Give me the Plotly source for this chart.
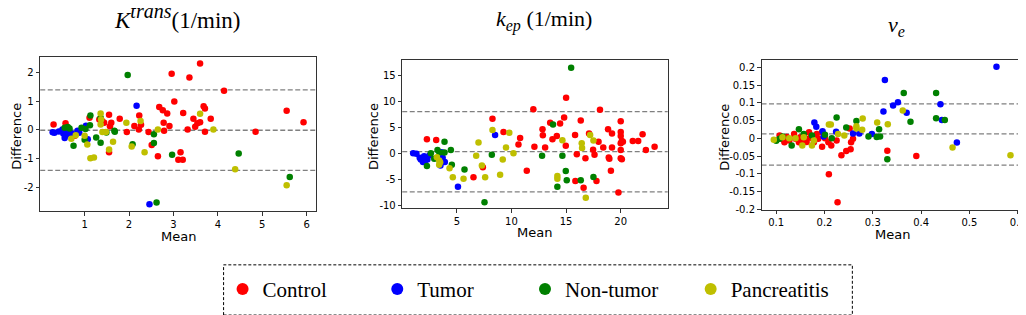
import plotly.graph_objects as go

W, H = 1026, 315


def X(px):
    return px / W


def Y(py):
    return 1 - py / H


groups = ["Control", "Tumor", "Non-tumor", "Pancreatitis"]
colors = ["#ff0000", "#0000ff", "#008000", "#bfbf00"]

# ---------------- Panel 1: K_trans ----------------
k_ctrl_mean = [0.30, 0.57, 0.78, 1.11, 1.33, 1.40, 1.44, 1.55, 1.60, 1.57, 1.55, 1.79, 1.95, 2.12, 2.22, 2.23, 2.27,
               2.44, 2.51, 2.65, 2.68, 2.76, 2.78, 2.79, 2.86, 2.91, 2.96, 3.02, 3.11, 3.16, 3.21, 3.22, 3.32, 3.36,
               3.45, 3.49, 3.54, 3.60, 3.60, 3.68, 3.71, 3.71, 3.84, 4.14, 4.85, 5.55, 5.93]
k_ctrl_diff = [0.19, 0.23, -0.20, 0.42, 0.36, 0.30, 0.25, 0.53, 0.25, 0.13, -0.77, 0.39, -0.07, 0.14, 0.02, 0.50, 0.18,
               -0.07, -0.52, -0.91, 0.80, 0.68, 0.25, -0.03, 0.57, 0.14, 1.95, 0.99, -1.03, -0.77, -1.03, 0.59, 0.02,
               1.82, 0.39, 0.11, 0.23, 2.30, 0.27, 0.82, 0.74, -0.06, 0.39, 1.36, -0.06, 0.67, 0.27]
k_tum_mean = [0.28, 0.32, 0.42, 0.50, 0.52, 0.55, 0.58, 0.62, 0.66, 0.70, 0.74, 0.84, 0.88, 1.03, 1.07, 2.17, 2.46]
k_tum_diff = [-0.08, -0.10, -0.05, 0.02, -0.12, -0.28, -0.18, -0.10, -0.05, -0.12, -0.15, -0.03, -0.10, 0.15, -0.32,
              0.84, -2.57]
k_non_mean = [0.55, 0.62, 0.66, 0.75, 0.93, 1.00, 1.02, 1.12, 1.13, 1.26, 1.36, 1.36, 1.49, 1.67, 1.68, 1.97, 2.08,
              2.56, 2.56, 2.62, 2.97, 4.47, 5.62]
k_non_diff = [0.08, 0.10, 0.05, -0.55, 0.08, -0.34, 0.03, 0.16, 0.50, -0.26, -0.44, 0.42, -0.09, -0.03, -0.06, 1.90,
              -0.49, -0.15, -0.45, -2.51, -0.86, -0.81, -1.63]
k_pan_mean = [0.70, 0.80, 1.00, 1.06, 1.13, 1.21, 1.36, 1.37, 1.36, 1.40, 1.48, 1.55, 1.64, 1.94, 2.06, 2.26, 2.35,
              2.65, 3.60, 3.90, 4.39, 5.55]
k_pan_diff = [-0.30, -0.18, -0.20, -0.50, -0.98, -0.95, 0.57, 0.36, 0.19, -0.07, -0.07, -0.68, -0.41, 0.25, -0.57,
              0.31, -0.77, 0.02, 0.56, 0.02, -1.36, -1.91]
k_lines = [1.386, -0.01, -1.40]

# ---------------- Panel 2: k_ep ----------------
kep_ctrl_mean = [2.26, 3.11, 6.52, 7.38, 8.26, 9.27, 10.64, 10.79, 11.4, 12.0, 12.1, 12.84, 12.87, 13.08, 13.54, 13.75,
                 14.15, 14.45, 14.82, 15.0, 14.97, 15.82, 15.98, 15.85, 16.34, 16.6, 16.77, 17.1, 17.47, 17.6, 17.78,
                 17.97, 18.1, 18.4, 18.84, 18.9, 18.96, 19.2, 19.2, 19.1, 19.79, 20.0, 20.0, 20.0, 20.0, 20.1, 20.0,
                 20.0, 20.1, 20.2, 21.1, 21.6, 22.0, 22.3, 23.1]
kep_ctrl_diff = [2.79, 2.66, -4.57, -2.6, 6.73, 4.19, 1.78, 3.05, -3.3, 8.6, 1.33, 4.7, 3.55, 1.2, 5.96, 2.79, 3.43,
                 5.84, 6.98, 10.8, 1.52, 3.62, -0.13, -5.27, 6.4, -6.6, -0.89, 3.9, 0.76, -0.19, -5.27, 2.28, 8.5,
                 1.2, 4.7, -0.76, -1.0, 3.9, 1.2, -3.3, -7.5, 6.28, 4.19, 3.43, 2.03, 2.47, 0.7, -0.89, -1.08, 2.28,
                 2.47, 2.47, 3.74, 0.7, 1.33]
kep_tum_mean = [1.0, 1.3, 1.6, 1.7, 1.8, 1.9, 2.0, 2.1, 2.2, 2.3, 2.5, 3.5, 3.6, 3.7, 3.9, 5.1, 8.5]
kep_tum_diff = [0.1, 0.0, -0.8, -1.1, -1.0, -1.6, -0.5, -1.3, -0.9, -1.1, -0.3, -2.3, 0.3, -0.8, -1.6, -6.4, 3.6]
kep_non_mean = [2.26, 2.62, 2.93, 3.23, 3.4, 3.87, 3.87, 4.45, 4.54, 5.7, 8.2, 7.53, 12.8, 13.8, 14.66, 14.97, 15.06,
                14.2, 15.46, 16.34, 17.5]
kep_non_diff = [-2.4, 0.06, -1.0, 0.7, 0.25, 2.28, 0.25, 0.7, -2.16, -3.05, -0.19, -9.4, -0.38, 5.65, -0.38, -3.36,
                -5.14, -6.4, 16.6, -5.14, -4.5]
kep_pan_mean = [3.17, 3.38, 3.47, 3.38, 4.33, 4.63, 5.61, 6.77, 6.98, 7.29, 7.59, 8.26, 8.96, 9.2, 9.5, 9.8, 10.18,
                14.2, 14.2, 14.66, 16.43, 16.46, 16.8, 17.2, 17.5]
kep_pan_diff = [-0.7, -1.33, -1.65, -2.16, -2.79, -4.57, -4.82, -0.38, 2.16, -2.28, -4.57, 4.57, -4.06, -1.14, 1.2,
                4.06, 0.06, -4.31, -4.82, 2.6, 2.03, 1.08, -8.5, 3.62, 2.54]
kep_lines = [8.12, 0.38, -7.36]

# ---------------- Panel 3: v_e ----------------
ve_ctrl_mean = [0.107, 0.112, 0.117, 0.122, 0.127, 0.137, 0.140, 0.147, 0.150, 0.157, 0.160, 0.163, 0.168, 0.171,
                0.178, 0.184, 0.187, 0.195, 0.195, 0.201, 0.208, 0.209, 0.214, 0.225, 0.227, 0.235, 0.245, 0.252,
                0.254, 0.255, 0.259, 0.330, 0.390]
ve_ctrl_diff = [0.008, -0.001, -0.011, 0.004, -0.006, 0.012, -0.001, -0.011, 0.003, -0.006, 0.000, -0.010, 0.017,
                0.002, -0.011, 0.012, -0.001, 0.017, -0.024, 0.000, -0.011, -0.101, -0.020, -0.006, -0.180, -0.048,
                -0.036, 0.028, -0.031, -0.011, -0.001, -0.035, -0.050]
ve_tum_mean = [0.179, 0.183, 0.196, 0.198, 0.224, 0.259, 0.272, 0.298, 0.322, 0.325, 0.342, 0.352, 0.370, 0.440,
               0.443, 0.474, 0.556]
ve_tum_diff = [0.045, 0.033, 0.020, 0.005, 0.019, 0.014, 0.014, 0.012, 0.076, 0.165, 0.093, 0.102, 0.072, 0.096,
               0.052, -0.012, 0.202]
ve_non_mean = [0.100, 0.107, 0.113, 0.132, 0.147, 0.157, 0.174, 0.201, 0.215, 0.225, 0.245, 0.266, 0.291, 0.308,
               0.313, 0.315, 0.330, 0.364, 0.378, 0.431, 0.431, 0.449]
ve_non_diff = [-0.007, -0.001, 0.005, -0.020, 0.026, 0.012, 0.008, 0.010, 0.000, 0.059, 0.031, 0.049, 0.005, 0.004,
               0.026, 0.005, -0.059, 0.128, 0.047, 0.128, 0.057, 0.052]
ve_pan_mean = [0.095, 0.113, 0.127, 0.140, 0.154, 0.157, 0.174, 0.178, 0.209, 0.213, 0.228, 0.241, 0.266, 0.266,
               0.279, 0.278, 0.309, 0.331, 0.362, 0.465, 0.585]
ve_pan_diff = [-0.004, 0.003, 0.000, 0.000, -0.020, 0.003, -0.020, -0.006, 0.039, 0.039, 0.012, 0.008, 0.028, 0.034,
               0.056, 0.024, 0.045, 0.040, 0.079, -0.026, -0.048]
ve_lines = [0.0975, 0.0125, -0.0753]

# tick labels
k_xticks = [1, 2, 3, 4, 5, 6]
k_yticks = [-2, -1, 0, 1, 2]
kep_xticks = [5, 10, 15, 20]
kep_yticks = [-10, -5, 0, 5, 10, 15]
ve_xticks = [0.1, 0.2, 0.3, 0.4, 0.5, 0.6]
ve_xlabels = ["0.1", "0.2", "0.3", "0.4", "0.5", "0.6"]
ve_yticks = [-0.2, -0.15, -0.1, -0.05, 0, 0.05, 0.1, 0.15, 0.2]
ve_ylabels = ["-0.2", "-0.15", "-0.1", "-0.05", "0", "0.05", "0.1", "0.15", "0.2"]

panels = [
    dict(x=[k_ctrl_mean, k_tum_mean, k_non_mean, k_pan_mean],
         y=[k_ctrl_diff, k_tum_diff, k_non_diff, k_pan_diff], lines=k_lines,
         box=(32.3, 309.0, 50.0, 206.7), xr=[0.0, 6.22], yr=[-2.82, 2.52],
         xt=(k_xticks, [str(v) for v in k_xticks]), yt=(k_yticks, [str(v) for v in k_yticks])),
    dict(x=[kep_ctrl_mean, kep_tum_mean, kep_non_mean, kep_pan_mean],
         y=[kep_ctrl_diff, kep_tum_diff, kep_non_diff, kep_pan_diff], lines=kep_lines,
         box=(395.0, 661.0, 53.3, 203.3), xr=[0.0, 24.3], yr=[-10.5, 18.0],
         xt=(kep_xticks, [str(v) for v in kep_xticks]), yt=(kep_yticks, [str(v) for v in kep_yticks])),
    dict(x=[ve_ctrl_mean, ve_tum_mean, ve_non_mean, ve_pan_mean],
         y=[ve_ctrl_diff, ve_tum_diff, ve_non_diff, ve_pan_diff], lines=ve_lines,
         box=(755.0, 1018.0, 53.3, 205.0), xr=[0.0696, 0.613], yr=[-0.2015, 0.220],
         xt=(ve_xticks, ve_xlabels), yt=(ve_yticks, ve_ylabels)),
]

fig = go.Figure()
legend_names = ["legend", "legend2", "legend3", "legend4"]
legend_marker_x = [242, 397, 545, 711]

axcommon = dict(showline=True, mirror=True, linecolor="#333333", linewidth=1, ticks="outside", ticklen=3.5,
                tickwidth=1, tickcolor="#333333", showgrid=False, zeroline=False, ticklabeloverflow="allow",
                tickfont=dict(family="DejaVu Sans", size=10, color="black"))

layout = {}
for i, p in enumerate(panels):
    sfx = "" if i == 0 else str(i + 1)
    xa, ya = "x" + sfx, "y" + sfx
    for g in range(4):
        fig.add_trace(go.Scatter(
            x=p["x"][g], y=p["y"][g], mode="markers", name=groups[g],
            marker=dict(color=colors[g], size=6.5, line=dict(width=0)),
            xaxis=xa, yaxis=ya, showlegend=(i == 0), legend=legend_names[g], hoverinfo="skip"))
    x0, x1, yt, yb = p["box"]
    layout["xaxis" + sfx] = dict(domain=[X(x0), X(x1)], anchor=ya, range=p["xr"],
                                 tickvals=p["xt"][0], ticktext=p["xt"][1], **axcommon)
    layout["yaxis" + sfx] = dict(domain=[Y(yb), Y(yt)], anchor=xa, range=p["yr"],
                                 tickvals=p["yt"][0], ticktext=p["yt"][1], **axcommon)
    for v in p["lines"]:
        fig.add_shape(type="line", xref=xa + " domain", yref=ya, x0=0, x1=1, y0=v, y1=v,
                      line=dict(color="#808080", width=1.3, dash="5px,2.5px"), layer="below")

fig.update_layout(**layout)

serif = "Liberation Serif, Times New Roman, serif"
for g in range(4):
    fig.update_layout({legend_names[g]: dict(
        x=X(legend_marker_x[g] - 27), xanchor="left", y=Y(286), yanchor="middle",
        orientation="h", bgcolor="rgba(0,0,0,0)", borderwidth=0, itemsizing="constant",
        font=dict(family=serif, size=21, color="black"))})

# dashed legend frame
fig.add_shape(type="rect", xref="paper", yref="paper", x0=X(216), x1=X(846), y0=Y(312), y1=Y(261),
              line=dict(color="black", width=1, dash="3px,2px"))

ann = []
titles = [("<i>K</i><sup><i><span style='font-size:20px'>trans</span></i></sup>(1/min)", 169, 9, 23),
          ("<i>k</i><sub><i><span style='font-size:16px'>ep</span></i></sub> (1/min)", 537, 13, 22),
          ("<i>v</i><sub><i><span style='font-size:16px'>e</span></i></sub>", 890, 18, 22)]
for t, x, y, s in titles:
    ann.append(dict(text=t, x=X(x), y=Y(y), xref="paper", yref="paper", showarrow=False,
                    xanchor="center", yanchor="middle",
                    font=dict(family=serif, size=s, color="black")))
for p, dx in zip(panels, [8.5, 365.5, 717]):
    x0, x1, yt, yb = p["box"]
    ann.append(dict(text="Difference", x=X(dx), y=Y((yt + yb) / 2 + 2), xref="paper", yref="paper",
                    showarrow=False, textangle=-90, xanchor="center", yanchor="middle",
                    font=dict(family="DejaVu Sans", size=13, color="black")))
    ann.append(dict(text="Mean", x=X((x0 + x1) / 2), y=Y(yb + 25), xref="paper", yref="paper",
                    showarrow=False, xanchor="center", yanchor="middle",
                    font=dict(family="DejaVu Sans", size=13, color="black")))
fig.update_layout(annotations=ann)

fig.update_layout(width=W, height=H, margin=dict(l=0, r=0, t=0, b=0), paper_bgcolor="white",
                  plot_bgcolor="white", font=dict(family=serif, size=21, color="black"))
fig.write_html("out.html")
